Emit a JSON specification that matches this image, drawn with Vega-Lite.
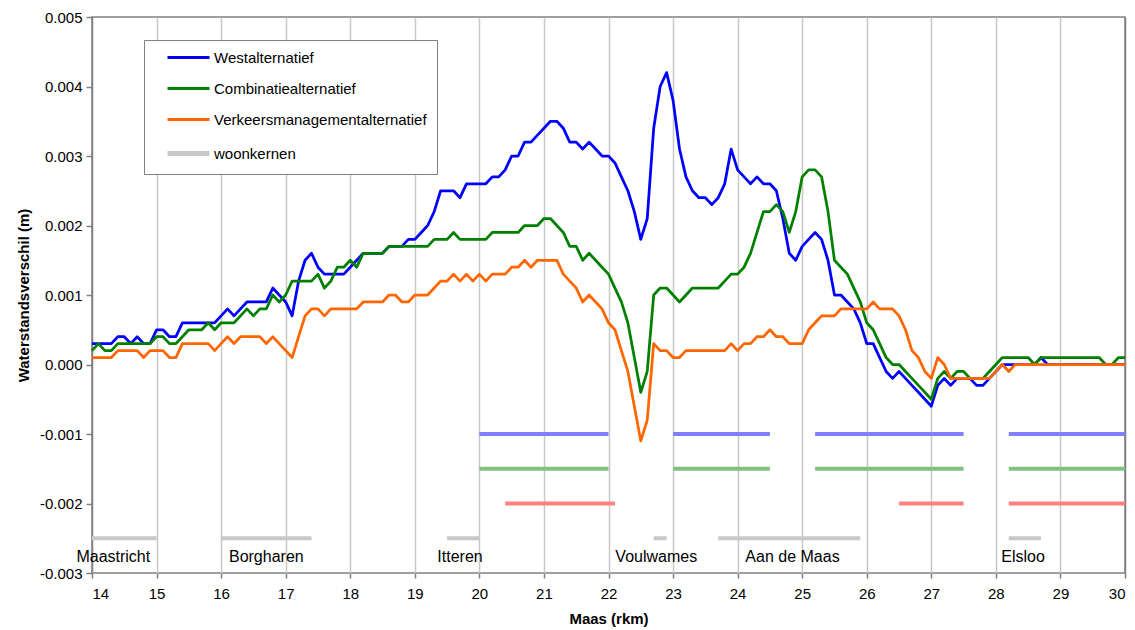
{
  "$schema": "https://vega.github.io/schema/vega-lite/v6.json",
  "width": 1033,
  "height": 556,
  "autosize": {"type": "none"},
  "padding": {"left": 92, "top": 17, "right": 10, "bottom": 57},
  "background": "white",
  "config": {
    "font": "Liberation Sans",
    "view": {"stroke": "#808080", "strokeWidth": 1.5},
    "axis": {
      "labelFont": "Liberation Sans",
      "labelFontSize": 15,
      "labelColor": "black",
      "titleFont": "Liberation Sans",
      "titleFontSize": 15,
      "titleFontWeight": "bold",
      "titleColor": "black",
      "gridWidth": 1.5,
      "gridOpacity": 1,
      "tickColor": "#808080",
      "tickWidth": 1.5,
      "domain": false
    }
  },
  "datasets": {
    "names": [
      {"key": "W", "serie": "Westalternatief"},
      {"key": "C", "serie": "Combinatiealternatief"},
      {"key": "V", "serie": "Verkeersmanagementalternatief"}
    ],
    "towns": [
      {"town": "Maastricht", "from": 14.0, "to": 15.0, "mid": 14.33},
      {"town": "Borgharen", "from": 16.0, "to": 17.4, "mid": 16.7},
      {"town": "Itteren", "from": 19.5, "to": 20.0, "mid": 19.7},
      {"town": "Voulwames", "from": 22.7, "to": 22.9, "mid": 22.74},
      {"town": "Aan de Maas", "from": 23.7, "to": 25.9, "mid": 24.85},
      {"town": "Elsloo", "from": 28.2, "to": 28.7, "mid": 28.42}
    ],
    "bars": [
      {"alt": "W", "from": 20.0, "to": 22.0},
      {"alt": "W", "from": 23.0, "to": 24.5},
      {"alt": "W", "from": 25.2, "to": 27.5},
      {"alt": "W", "from": 28.2, "to": 30.0},
      {"alt": "C", "from": 20.0, "to": 22.0},
      {"alt": "C", "from": 23.0, "to": 24.5},
      {"alt": "C", "from": 25.2, "to": 27.5},
      {"alt": "C", "from": 28.2, "to": 30.0},
      {"alt": "V", "from": 20.4, "to": 22.1},
      {"alt": "V", "from": 26.5, "to": 27.5},
      {"alt": "V", "from": 28.2, "to": 30.0}
    ],
    "profile": [
      {"km": 14.0, "W": 0.0003, "C": 0.0002, "V": 0.0001},
      {"km": 14.1, "W": 0.0003, "C": 0.0003, "V": 0.0001},
      {"km": 14.2, "W": 0.0003, "C": 0.0002, "V": 0.0001},
      {"km": 14.3, "W": 0.0003, "C": 0.0002, "V": 0.0001},
      {"km": 14.4, "W": 0.0004, "C": 0.0003, "V": 0.0002},
      {"km": 14.5, "W": 0.0004, "C": 0.0003, "V": 0.0002},
      {"km": 14.6, "W": 0.0003, "C": 0.0003, "V": 0.0002},
      {"km": 14.7, "W": 0.0004, "C": 0.0003, "V": 0.0002},
      {"km": 14.8, "W": 0.0003, "C": 0.0003, "V": 0.0001},
      {"km": 14.9, "W": 0.0003, "C": 0.0003, "V": 0.0002},
      {"km": 15.0, "W": 0.0005, "C": 0.0004, "V": 0.0002},
      {"km": 15.1, "W": 0.0005, "C": 0.0004, "V": 0.0002},
      {"km": 15.2, "W": 0.0004, "C": 0.0003, "V": 0.0001},
      {"km": 15.3, "W": 0.0004, "C": 0.0003, "V": 0.0001},
      {"km": 15.4, "W": 0.0006, "C": 0.0004, "V": 0.0003},
      {"km": 15.5, "W": 0.0006, "C": 0.0005, "V": 0.0003},
      {"km": 15.6, "W": 0.0006, "C": 0.0005, "V": 0.0003},
      {"km": 15.7, "W": 0.0006, "C": 0.0005, "V": 0.0003},
      {"km": 15.8, "W": 0.0006, "C": 0.0006, "V": 0.0003},
      {"km": 15.9, "W": 0.0006, "C": 0.0005, "V": 0.0002},
      {"km": 16.0, "W": 0.0007, "C": 0.0006, "V": 0.0003},
      {"km": 16.1, "W": 0.0008, "C": 0.0006, "V": 0.0004},
      {"km": 16.2, "W": 0.0007, "C": 0.0006, "V": 0.0003},
      {"km": 16.3, "W": 0.0008, "C": 0.0007, "V": 0.0004},
      {"km": 16.4, "W": 0.0009, "C": 0.0008, "V": 0.0004},
      {"km": 16.5, "W": 0.0009, "C": 0.0007, "V": 0.0004},
      {"km": 16.6, "W": 0.0009, "C": 0.0008, "V": 0.0004},
      {"km": 16.7, "W": 0.0009, "C": 0.0008, "V": 0.0003},
      {"km": 16.8, "W": 0.0011, "C": 0.0010, "V": 0.0004},
      {"km": 16.9, "W": 0.0010, "C": 0.0009, "V": 0.0003},
      {"km": 17.0, "W": 0.0009, "C": 0.0010, "V": 0.0002},
      {"km": 17.1, "W": 0.0007, "C": 0.0012, "V": 0.0001},
      {"km": 17.2, "W": 0.0012, "C": 0.0012, "V": 0.0004},
      {"km": 17.3, "W": 0.0015, "C": 0.0012, "V": 0.0007},
      {"km": 17.4, "W": 0.0016, "C": 0.0012, "V": 0.0008},
      {"km": 17.5, "W": 0.0014, "C": 0.0013, "V": 0.0008},
      {"km": 17.6, "W": 0.0013, "C": 0.0011, "V": 0.0007},
      {"km": 17.7, "W": 0.0013, "C": 0.0012, "V": 0.0008},
      {"km": 17.8, "W": 0.0013, "C": 0.0014, "V": 0.0008},
      {"km": 17.9, "W": 0.0013, "C": 0.0014, "V": 0.0008},
      {"km": 18.0, "W": 0.0014, "C": 0.0015, "V": 0.0008},
      {"km": 18.1, "W": 0.0015, "C": 0.0014, "V": 0.0008},
      {"km": 18.2, "W": 0.0016, "C": 0.0016, "V": 0.0009},
      {"km": 18.3, "W": 0.0016, "C": 0.0016, "V": 0.0009},
      {"km": 18.4, "W": 0.0016, "C": 0.0016, "V": 0.0009},
      {"km": 18.5, "W": 0.0016, "C": 0.0016, "V": 0.0009},
      {"km": 18.6, "W": 0.0017, "C": 0.0017, "V": 0.0010},
      {"km": 18.7, "W": 0.0017, "C": 0.0017, "V": 0.0010},
      {"km": 18.8, "W": 0.0017, "C": 0.0017, "V": 0.0009},
      {"km": 18.9, "W": 0.0018, "C": 0.0017, "V": 0.0009},
      {"km": 19.0, "W": 0.0018, "C": 0.0017, "V": 0.0010},
      {"km": 19.1, "W": 0.0019, "C": 0.0017, "V": 0.0010},
      {"km": 19.2, "W": 0.0020, "C": 0.0017, "V": 0.0010},
      {"km": 19.3, "W": 0.0022, "C": 0.0018, "V": 0.0011},
      {"km": 19.4, "W": 0.0025, "C": 0.0018, "V": 0.0012},
      {"km": 19.5, "W": 0.0025, "C": 0.0018, "V": 0.0012},
      {"km": 19.6, "W": 0.0025, "C": 0.0019, "V": 0.0013},
      {"km": 19.7, "W": 0.0024, "C": 0.0018, "V": 0.0012},
      {"km": 19.8, "W": 0.0026, "C": 0.0018, "V": 0.0013},
      {"km": 19.9, "W": 0.0026, "C": 0.0018, "V": 0.0012},
      {"km": 20.0, "W": 0.0026, "C": 0.0018, "V": 0.0013},
      {"km": 20.1, "W": 0.0026, "C": 0.0018, "V": 0.0012},
      {"km": 20.2, "W": 0.0027, "C": 0.0019, "V": 0.0013},
      {"km": 20.3, "W": 0.0027, "C": 0.0019, "V": 0.0013},
      {"km": 20.4, "W": 0.0028, "C": 0.0019, "V": 0.0013},
      {"km": 20.5, "W": 0.0030, "C": 0.0019, "V": 0.0014},
      {"km": 20.6, "W": 0.0030, "C": 0.0019, "V": 0.0014},
      {"km": 20.7, "W": 0.0032, "C": 0.0020, "V": 0.0015},
      {"km": 20.8, "W": 0.0032, "C": 0.0020, "V": 0.0014},
      {"km": 20.9, "W": 0.0033, "C": 0.0020, "V": 0.0015},
      {"km": 21.0, "W": 0.0034, "C": 0.0021, "V": 0.0015},
      {"km": 21.1, "W": 0.0035, "C": 0.0021, "V": 0.0015},
      {"km": 21.2, "W": 0.0035, "C": 0.0020, "V": 0.0015},
      {"km": 21.3, "W": 0.0034, "C": 0.0019, "V": 0.0013},
      {"km": 21.4, "W": 0.0032, "C": 0.0017, "V": 0.0012},
      {"km": 21.5, "W": 0.0032, "C": 0.0017, "V": 0.0011},
      {"km": 21.6, "W": 0.0031, "C": 0.0015, "V": 0.0009},
      {"km": 21.7, "W": 0.0032, "C": 0.0016, "V": 0.0010},
      {"km": 21.8, "W": 0.0031, "C": 0.0015, "V": 0.0009},
      {"km": 21.9, "W": 0.0030, "C": 0.0014, "V": 0.0008},
      {"km": 22.0, "W": 0.0030, "C": 0.0013, "V": 0.0006},
      {"km": 22.1, "W": 0.0029, "C": 0.0011, "V": 0.0005},
      {"km": 22.2, "W": 0.0027, "C": 0.0009, "V": 0.0002},
      {"km": 22.3, "W": 0.0025, "C": 0.0006, "V": -0.0001},
      {"km": 22.4, "W": 0.0022, "C": 0.0001, "V": -0.0006},
      {"km": 22.5, "W": 0.0018, "C": -0.0004, "V": -0.0011},
      {"km": 22.6, "W": 0.0021, "C": -0.0001, "V": -0.0008},
      {"km": 22.7, "W": 0.0034, "C": 0.0010, "V": 0.0003},
      {"km": 22.8, "W": 0.0040, "C": 0.0011, "V": 0.0002},
      {"km": 22.9, "W": 0.0042, "C": 0.0011, "V": 0.0002},
      {"km": 23.0, "W": 0.0038, "C": 0.0010, "V": 0.0001},
      {"km": 23.1, "W": 0.0031, "C": 0.0009, "V": 0.0001},
      {"km": 23.2, "W": 0.0027, "C": 0.0010, "V": 0.0002},
      {"km": 23.3, "W": 0.0025, "C": 0.0011, "V": 0.0002},
      {"km": 23.4, "W": 0.0024, "C": 0.0011, "V": 0.0002},
      {"km": 23.5, "W": 0.0024, "C": 0.0011, "V": 0.0002},
      {"km": 23.6, "W": 0.0023, "C": 0.0011, "V": 0.0002},
      {"km": 23.7, "W": 0.0024, "C": 0.0011, "V": 0.0002},
      {"km": 23.8, "W": 0.0026, "C": 0.0012, "V": 0.0002},
      {"km": 23.9, "W": 0.0031, "C": 0.0013, "V": 0.0003},
      {"km": 24.0, "W": 0.0028, "C": 0.0013, "V": 0.0002},
      {"km": 24.1, "W": 0.0027, "C": 0.0014, "V": 0.0003},
      {"km": 24.2, "W": 0.0026, "C": 0.0016, "V": 0.0003},
      {"km": 24.3, "W": 0.0027, "C": 0.0019, "V": 0.0004},
      {"km": 24.4, "W": 0.0026, "C": 0.0022, "V": 0.0004},
      {"km": 24.5, "W": 0.0026, "C": 0.0022, "V": 0.0005},
      {"km": 24.6, "W": 0.0025, "C": 0.0023, "V": 0.0004},
      {"km": 24.7, "W": 0.0021, "C": 0.0022, "V": 0.0004},
      {"km": 24.8, "W": 0.0016, "C": 0.0019, "V": 0.0003},
      {"km": 24.9, "W": 0.0015, "C": 0.0022, "V": 0.0003},
      {"km": 25.0, "W": 0.0017, "C": 0.0027, "V": 0.0003},
      {"km": 25.1, "W": 0.0018, "C": 0.0028, "V": 0.0005},
      {"km": 25.2, "W": 0.0019, "C": 0.0028, "V": 0.0006},
      {"km": 25.3, "W": 0.0018, "C": 0.0027, "V": 0.0007},
      {"km": 25.4, "W": 0.0015, "C": 0.0022, "V": 0.0007},
      {"km": 25.5, "W": 0.0010, "C": 0.0015, "V": 0.0007},
      {"km": 25.6, "W": 0.0010, "C": 0.0014, "V": 0.0008},
      {"km": 25.7, "W": 0.0009, "C": 0.0013, "V": 0.0008},
      {"km": 25.8, "W": 0.0008, "C": 0.0011, "V": 0.0008},
      {"km": 25.9, "W": 0.0006, "C": 0.0009, "V": 0.0008},
      {"km": 26.0, "W": 0.0003, "C": 0.0006, "V": 0.0008},
      {"km": 26.1, "W": 0.0003, "C": 0.0005, "V": 0.0009},
      {"km": 26.2, "W": 0.0001, "C": 0.0003, "V": 0.0008},
      {"km": 26.3, "W": -0.0001, "C": 0.0001, "V": 0.0008},
      {"km": 26.4, "W": -0.0002, "C": 0.0, "V": 0.0008},
      {"km": 26.5, "W": -0.0001, "C": 0.0, "V": 0.0007},
      {"km": 26.6, "W": -0.0002, "C": -0.0001, "V": 0.0005},
      {"km": 26.7, "W": -0.0003, "C": -0.0002, "V": 0.0002},
      {"km": 26.8, "W": -0.0004, "C": -0.0003, "V": 0.0001},
      {"km": 26.9, "W": -0.0005, "C": -0.0004, "V": -0.0001},
      {"km": 27.0, "W": -0.0006, "C": -0.0005, "V": -0.0002},
      {"km": 27.1, "W": -0.0003, "C": -0.0002, "V": 0.0001},
      {"km": 27.2, "W": -0.0002, "C": -0.0001, "V": 0.0},
      {"km": 27.3, "W": -0.0003, "C": -0.0002, "V": -0.0002},
      {"km": 27.4, "W": -0.0002, "C": -0.0001, "V": -0.0002},
      {"km": 27.5, "W": -0.0002, "C": -0.0001, "V": -0.0002},
      {"km": 27.6, "W": -0.0002, "C": -0.0002, "V": -0.0002},
      {"km": 27.7, "W": -0.0003, "C": -0.0002, "V": -0.0002},
      {"km": 27.8, "W": -0.0003, "C": -0.0002, "V": -0.0002},
      {"km": 27.9, "W": -0.0002, "C": -0.0001, "V": -0.0002},
      {"km": 28.0, "W": -0.0001, "C": 0.0, "V": -0.0001},
      {"km": 28.1, "W": 0.0, "C": 0.0001, "V": 0.0},
      {"km": 28.2, "W": 0.0, "C": 0.0001, "V": -0.0001},
      {"km": 28.3, "W": 0.0, "C": 0.0001, "V": 0.0},
      {"km": 28.4, "W": 0.0, "C": 0.0001, "V": 0.0},
      {"km": 28.5, "W": 0.0, "C": 0.0001, "V": 0.0},
      {"km": 28.6, "W": 0.0, "C": 0.0, "V": 0.0},
      {"km": 28.7, "W": 0.0001, "C": 0.0001, "V": 0.0},
      {"km": 28.8, "W": 0.0, "C": 0.0001, "V": 0.0},
      {"km": 28.9, "W": 0.0, "C": 0.0001, "V": 0.0},
      {"km": 29.0, "W": 0.0, "C": 0.0001, "V": 0.0},
      {"km": 29.1, "W": 0.0, "C": 0.0001, "V": 0.0},
      {"km": 29.2, "W": 0.0, "C": 0.0001, "V": 0.0},
      {"km": 29.3, "W": 0.0, "C": 0.0001, "V": 0.0},
      {"km": 29.4, "W": 0.0, "C": 0.0001, "V": 0.0},
      {"km": 29.5, "W": 0.0, "C": 0.0001, "V": 0.0},
      {"km": 29.6, "W": 0.0, "C": 0.0001, "V": 0.0},
      {"km": 29.7, "W": 0.0, "C": 0.0, "V": 0.0},
      {"km": 29.8, "W": 0.0, "C": 0.0, "V": 0.0},
      {"km": 29.9, "W": 0.0, "C": 0.0001, "V": 0.0},
      {"km": 30.0, "W": 0.0, "C": 0.0001, "V": 0.0}
    ]
  },
  "layer": [
    {
      "data": {"name": "towns"},
      "mark": {"type": "rule", "strokeWidth": 4},
      "encoding": {
        "x": {"field": "from", "type": "quantitative", "title": "Maas (rkm)"},
        "x2": {"field": "to"},
        "y": {"datum": -0.0025, "type": "quantitative", "title": "Waterstandsverschil (m)"},
        "color": {"datum": "woonkernen"}
      }
    },
    {
      "data": {"name": "towns"},
      "mark": {"type": "text", "fontSize": 16, "font": "Liberation Sans", "color": "black", "align": "center", "baseline": "middle"},
      "encoding": {
        "x": {"field": "mid", "type": "quantitative", "title": "Maas (rkm)"},
        "y": {"datum": -0.00277, "type": "quantitative", "title": "Waterstandsverschil (m)"},
        "text": {"field": "town"}
      }
    },
    {
      "data": {"name": "bars"},
      "transform": [{"filter": {"field": "alt", "equal": "W"}}],
      "mark": {"type": "rule", "strokeWidth": 4, "color": "#8080FF"},
      "encoding": {
        "x": {"field": "from", "type": "quantitative", "title": "Maas (rkm)"},
        "x2": {"field": "to"},
        "y": {"datum": -0.001, "type": "quantitative", "title": "Waterstandsverschil (m)"}
      }
    },
    {
      "data": {"name": "bars"},
      "transform": [{"filter": {"field": "alt", "equal": "C"}}],
      "mark": {"type": "rule", "strokeWidth": 4, "color": "#80C080"},
      "encoding": {
        "x": {"field": "from", "type": "quantitative", "title": "Maas (rkm)"},
        "x2": {"field": "to"},
        "y": {"datum": -0.0015, "type": "quantitative", "title": "Waterstandsverschil (m)"}
      }
    },
    {
      "data": {"name": "bars"},
      "transform": [{"filter": {"field": "alt", "equal": "V"}}],
      "mark": {"type": "rule", "strokeWidth": 4, "color": "#FF8080"},
      "encoding": {
        "x": {"field": "from", "type": "quantitative", "title": "Maas (rkm)"},
        "x2": {"field": "to"},
        "y": {"datum": -0.002, "type": "quantitative", "title": "Waterstandsverschil (m)"}
      }
    },
    {
      "mark": {"type": "rule", "color": "black", "strokeWidth": 1.5},
      "encoding": {
        "y": {"datum": 0, "type": "quantitative", "title": "Waterstandsverschil (m)"}
      }
    },
    {
      "data": {"name": "profile"},
      "transform": [
        {"fold": ["W", "C", "V"], "as": ["key", "value"]},
        {"lookup": "key", "from": {"data": {"name": "names"}, "key": "key", "fields": ["serie"]}}
      ],
      "mark": {"type": "line", "strokeWidth": 2.75, "strokeJoin": "round"},
      "encoding": {
        "x": {
          "field": "km", "type": "quantitative",
          "scale": {"domain": [14, 30], "nice": false, "zero": false},
          "title": "Maas (rkm)",
          "axis": {
            "values": [14, 15, 16, 17, 18, 19, 20, 21, 22, 23, 24, 25, 26, 27, 28, 29, 30],
            "format": "d",
            "tickSize": 5,
            "labelPadding": 8,
            "titlePadding": 10,
            "gridColor": {"condition": {"test": "datum.value === 14 || datum.value === 30", "value": "#808080"}, "value": "#C8C8C8"}
          }
        },
        "y": {
          "field": "value", "type": "quantitative",
          "scale": {"domain": [-0.003, 0.005], "nice": false, "zero": false},
          "title": "Waterstandsverschil (m)",
          "axis": {
            "values": [-0.003, -0.002, -0.001, 0, 0.001, 0.002, 0.003, 0.004, 0.005],
            "labelExpr": "(datum.value < 0 ? '-' : '') + format(abs(datum.value), '.3f')",
            "tickSize": 6,
            "labelPadding": 4,
            "titlePadding": 8,
            "gridColor": {"condition": {"test": "datum.value > 0.0049 || datum.value < -0.0029", "value": "#808080"}, "value": "#C8C8C8"}
          }
        },
        "color": {
          "field": "serie", "type": "nominal",
          "scale": {
            "domain": ["Westalternatief", "Combinatiealternatief", "Verkeersmanagementalternatief", "woonkernen"],
            "range": ["#0000FF", "#008000", "#FF6600", "#C8C8C8"]
          },
          "legend": {
            "title": null,
            "orient": "none",
            "legendX": 52,
            "legendY": 23,
            "fillColor": "white",
            "strokeColor": "#808080",
            "padding": 10,
            "symbolType": "stroke",
            "symbolSize": 1764,
            "symbolStrokeWidth": 3,
            "symbolOffset": 27,
            "labelOffset": 18,
            "rowPadding": 15,
            "labelFont": "Liberation Sans",
            "labelFontSize": 15,
            "labelColor": "black",
            "labelLimit": 500,
            "labelExpr": "datum.label + '\u00a0\u00a0\u00a0\u00a0\u00a0\u00a0'",
            "encode": {"symbols": {"update": {"strokeWidth": {"signal": "datum.value === 'woonkernen' ? 5 : 3"}}}}
          }
        }
      }
    }
  ]
}
